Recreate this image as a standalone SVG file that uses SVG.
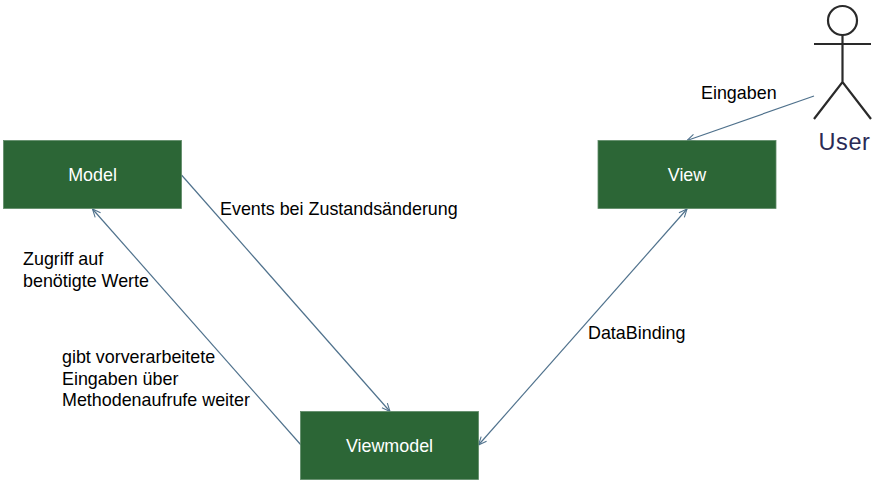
<svg xmlns="http://www.w3.org/2000/svg" width="886" height="487" viewBox="0 0 886 487">
<style>
text{font-family:"Liberation Sans",Arial,sans-serif;font-size:17.9px;fill:#000}
.box{fill:#2c6636;stroke:#5f8a68;stroke-width:.8}
.lbl{fill:#fff;text-anchor:middle}
.c{fill:none;stroke:#4f718c;stroke-width:1.2}
.a{stroke:#2a2a2a;stroke-width:2.2;fill:none}
</style>
<defs>
<marker id="h" viewBox="0 0 10 10" refX="10" refY="5" markerWidth="9" markerHeight="9" markerUnits="userSpaceOnUse" orient="auto-start-reverse"><path d="M1 1L10 5L1 9" fill="none" stroke="#4f718c" stroke-width="1.2"/></marker>
</defs>
<rect width="886" height="487" fill="#fff"/>
<g id="connectors">
<path class="c" d="M181.500 175L390 411.500" marker-end="url(#h)"/>
<path class="c" d="M301 445L92.500 209" marker-end="url(#h)"/>
<path class="c" d="M478.500 445L687 209" marker-start="url(#h)" marker-end="url(#h)"/>
<path class="c" d="M814 96L687 140.500" marker-end="url(#h)"/>
</g>
<g id="model"><rect class="box" x="3.500" y="140.500" width="178" height="68"/><text class="lbl" x="92.500" y="181">Model</text></g>
<g id="view"><rect class="box" x="598" y="140.500" width="178" height="68"/><text class="lbl" x="687" y="181">View</text></g>
<g id="viewmodel"><rect class="box" x="300.500" y="411.500" width="178" height="68"/><text class="lbl" x="389.500" y="452">Viewmodel</text></g>
<g id="user">
<circle class="a" cx="842.500" cy="20.500" r="14.500"/>
<path class="a" d="M842.500 35V82M814 44H871M814 119L842.500 82L871 119"/>
<text x="844.500" y="149.500" text-anchor="middle" style="font-size:23.500px;letter-spacing:.6px;fill:#2a2a55">User</text>
</g>
<g id="labels">
<text x="701" y="99">Eingaben</text>
<text x="220" y="215">Events bei Zustandsänderung</text>
<text x="588" y="339">DataBinding</text>
<text x="23" y="265">Zugriff auf</text>
<text x="23" y="287">benötigte Werte</text>
<text x="62" y="363">gibt vorverarbeitete</text>
<text x="62" y="385">Eingaben über</text>
<text x="62" y="406">Methodenaufrufe weiter</text>
</g>
</svg>
